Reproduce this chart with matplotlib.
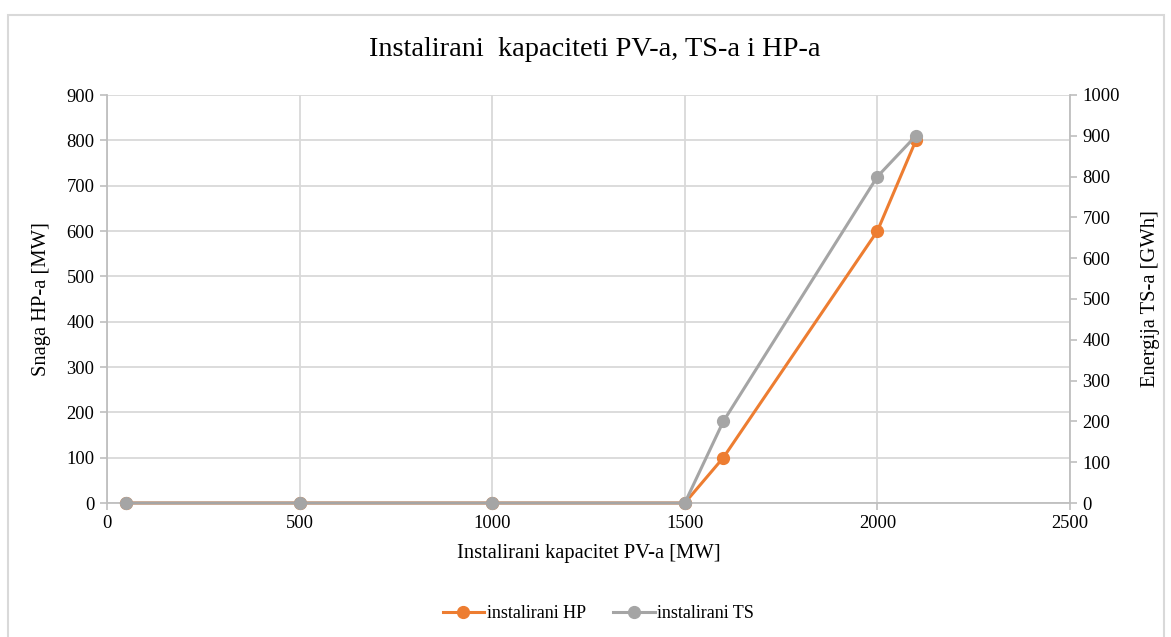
import numpy as np
import matplotlib
import matplotlib.pyplot as plt
from matplotlib.patches import Rectangle
from matplotlib.lines import Line2D

matplotlib.rc("font", family=['Liberation Serif', 'DejaVu Serif'])

## data
pv = [50, 500, 1000, 1500, 1600, 2000, 2100]
hp = [0, 0, 0, 0, 100, 600, 800]
ts = [0, 0, 0, 0, 200, 800, 900]

orange = '#ED7D31'
gray = '#A5A5A5'
gridc = '#D9D9D9'
axc = '#BFBFBF'

fig = plt.figure(figsize=(11.71, 6.37), dpi=100)
# okvir grafikona
fig.patches.append(Rectangle((8/1171, -0.1), 1156/1171, 1.1 - 15/637,
                             transform=fig.transFigure, fill=False,
                             edgecolor=gridc, linewidth=1.5))

ax = fig.add_axes([107/1171, 1-503/637, 963/1171, 408/637])
ax2 = ax.twinx()

ax.plot(pv, hp, color=orange, lw=2.2, marker='o', ms=8.5, zorder=3, clip_on=False)
ax2.plot(pv, ts, color=gray, lw=2.2, marker='o', ms=8.5, zorder=3, clip_on=False)

ax.set_xlim(0, 2500)
ax.set_ylim(0, 900)
ax2.set_ylim(0, 1000)
ax.set_xticks(np.arange(0, 2501, 500))
ax.set_yticks(np.arange(0, 901, 100))
ax2.set_yticks(np.arange(0, 1001, 100))

ax.grid(True, color=gridc, lw=1.3)
ax.set_axisbelow(True)

for a in (ax, ax2):
    for s in a.spines.values():
        s.set_visible(False)
    a.tick_params(length=5, width=1.2, color=axc, labelsize=13.3, pad=4)
ax.spines['left'].set_visible(True)
ax.spines['left'].set_color(axc)
ax.spines['bottom'].set_visible(True)
ax.spines['bottom'].set_color(axc)
ax2.spines['right'].set_visible(True)
ax2.spines['right'].set_color(axc)
for s in ('left', 'bottom'):
    ax.spines[s].set_linewidth(1.3)
ax2.spines['right'].set_linewidth(1.3)

ax.set_xlabel("Instalirani kapacitet PV-a [MW]", fontsize=14.8, labelpad=8)
ax.set_ylabel("Snaga HP-a [MW]", fontsize=14.8, labelpad=11)
ax2.set_ylabel("Energija TS-a [GWh]", fontsize=14.8, labelpad=15)
fig.text(0.508, 1-50/637, "Instalirani  kapaciteti PV-a, TS-a i HP-a",
         ha='center', va='center', fontsize=20.4)

handles = [Line2D([], [], color=orange, lw=2.2, marker='o', ms=8.5),
           Line2D([], [], color=gray, lw=2.2, marker='o', ms=8.5)]
fig.legend(handles, ['instalirani HP', 'instalirani TS'], ncol=2,
           loc='center', bbox_to_anchor=(0.511, 1-614/637), frameon=False,
           fontsize=13, handlelength=2.3, handletextpad=0.15, columnspacing=1.5)

plt.savefig("out.png", dpi=100)
